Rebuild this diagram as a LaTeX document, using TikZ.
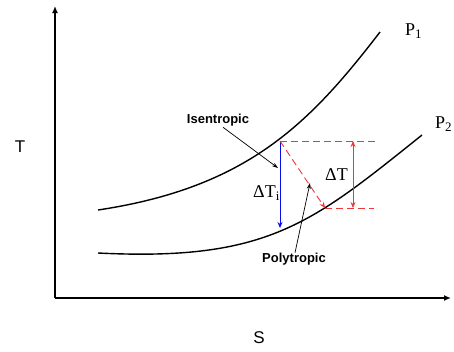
\documentclass[tikz,border=0pt]{standalone}
\usepackage{fontspec}
\setmainfont{Liberation Serif}
\setsansfont{Liberation Sans}
\usetikzlibrary{arrows.meta, positioning}
\definecolor{lightred}{RGB}{238,56,56}
\definecolor{isoblue}{RGB}{10,10,235}

\newcommand{\sub}[1]{\raisebox{-0.4ex}{\fontsize{13}{13}\selectfont #1}}

\begin{document}
\begin{tikzpicture}[
        x=1pt, y=-1pt,
        axis/.style={line width=1.8pt, -{Latex[length=7pt,width=6pt]}},
        isobar/.style={line width=1.4pt},
        drop/.style={isoblue, line width=0.9pt, -{Stealth[length=6pt,width=5pt]}},
        actual/.style={lightred, line width=0.9pt, dash pattern=on 7pt off 4pt, -{Stealth[length=6pt,width=5pt]}},
        guide/.style={lightred, line width=0.7pt, dash pattern=on 7pt off 4pt},
        span/.style={lightred, line width=0.9pt, {Stealth[length=6pt,width=5pt]}-{Stealth[length=6pt,width=5pt]}},
        note/.style={line width=0.7pt, -{Stealth[length=6pt,width=4pt]}},
        axislabel/.style={font=\sffamily\fontsize{17}{17}\selectfont, inner sep=0pt},
        tag/.style={font=\sffamily\bfseries\fontsize{13}{13}\selectfont, inner sep=0pt},
        curvelabel/.style={font=\fontsize{18}{18}\selectfont, inner sep=0pt, anchor=base west}
    ]
        \useasboundingbox (0,0) rectangle (454,351);

        % axes
        \coordinate (origin) at (55,298);
        \coordinate (ytop) at (55,6);
        \coordinate (xend) at (451,298);
        \draw[axis] (origin) -- (ytop);
        \draw[axis] (origin) -- (xend);
        \node[axislabel] (tlabel) at (20,147) {T};
        \node[axislabel] (slabel) at (259,338) {S};

        % isobars
        \draw[isobar] (98,210) .. controls (248,187.5) and (310,123) .. (380,32);
        \draw[isobar] (98,253) .. controls (268,261.5) and (312,223) .. (422,135);
        \node[curvelabel] (pone) at (405,35) {P\sub{1}};
        \node[curvelabel] (ptwo) at (435,128) {P\sub{2}};

        % expansion points
        \coordinate (inlet) at (280,141);
        \coordinate (isenout) at (280,228);
        \coordinate (polyout) at (325,208);
        \coordinate (guidetop) at (378,141);
        \coordinate (guidebot) at (374,208);
        \coordinate (spantop) at (353,141);
        \coordinate (spanbot) at (353,208);

        \draw[guide] (inlet) -- (guidetop);
        \draw[guide] (polyout) -- (guidebot);
        \draw[drop] (inlet) -- (isenout);
        \draw[actual] (inlet) -- (polyout);
        \draw[span] (spantop) -- (spanbot);

        \node[curvelabel] (dti) at (253,197) {ΔT\sub{i}};
        \node[curvelabel] (dt) at (325,180) {ΔT};

        % pointers
        \node[tag] (isen) at (218,120) {Isentropic};
        \node[tag] (poly) at (294,259) {Polytropic};
        \coordinate (isenhit) at (278,168);
        \coordinate (polyhit) at (310,183);
        \draw[note] ([xshift=5pt,yshift=-1pt]isen.south) -- (isenhit);
        \draw[note] ([xshift=1pt]poly.north) -- (polyhit);
    \end{tikzpicture}
\end{document}
